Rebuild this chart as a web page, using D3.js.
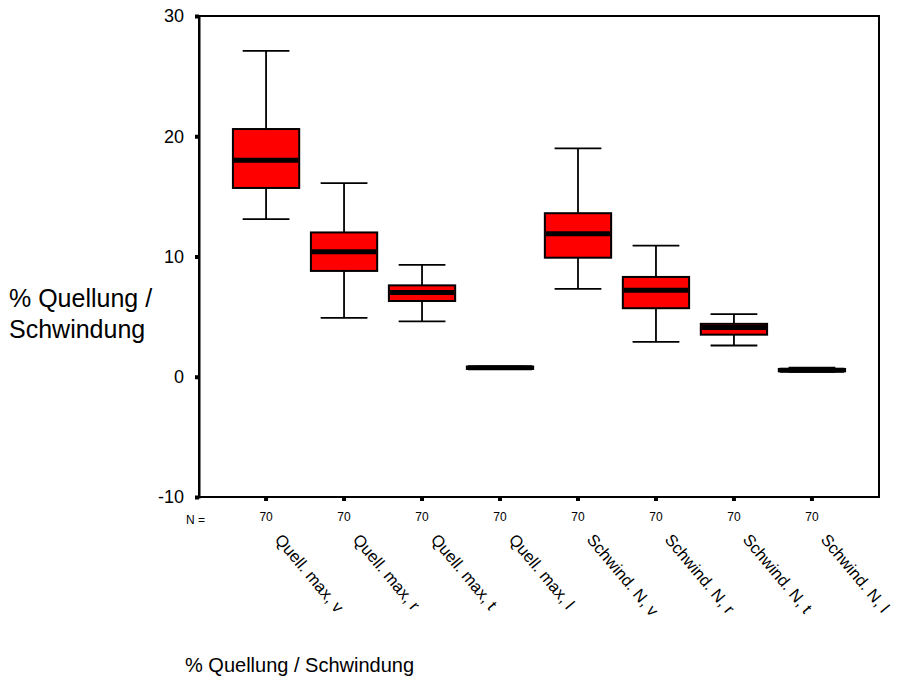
<!DOCTYPE html>
<html>
<head>
<meta charset="utf-8">
<script src="https://cdn.jsdelivr.net/npm/d3@7"></script>
<style>
  html, body { margin: 0; padding: 0; background: #fff; }
  svg { display: block; font-family: Arial, "Liberation Sans", sans-serif; }
</style>
</head>
<body>
<svg id="chart" width="918" height="682"></svg>
<script>
// Variables shown on the x axis
const categories = ["Quell. max, v", "Quell. max, r", "Quell. max, t", "Quell. max, l",
                    "Schwind. N, v", "Schwind. N, r", "Schwind. N, t", "Schwind. N, l"];
// Box-plot summaries (percent)
const whiskerHigh = [27.1, 16.1, 9.3, 0.85, 19.0, 10.9, 5.2, 0.75];
const quartile3   = [20.6, 12.0, 7.6, 0.85, 13.6, 8.3, 4.4, 0.65];
const medians     = [18.0, 10.4, 7.0, 0.75, 11.9, 7.2, 4.1, 0.55];
const quartile1   = [15.7, 8.8, 6.3, 0.65, 9.9, 5.7, 3.5, 0.45];
const whiskerLow  = [13.1, 4.9, 4.6, 0.65, 7.3, 2.9, 2.6, 0.4];
const counts      = [70, 70, 70, 70, 70, 70, 70, 70];
const yTicks      = [-10, 0, 10, 20, 30];

const svg = d3.select("#chart");
const plot = { left: 199, right: 879, top: 16, bottom: 497 };

const x = d3.scaleBand().domain(categories).range([plot.left, plot.right])
  .paddingInner(0).paddingOuter(0.36);
const y = d3.scaleLinear().domain([-10, 30]).range([plot.bottom, plot.top]);

const boxW = x.bandwidth() * 0.85;
const capW = x.bandwidth() * 0.6;

const data = categories.map((c, i) => ({
  cat: c, hi: whiskerHigh[i], q3: quartile3[i], med: medians[i],
  q1: quartile1[i], lo: whiskerLow[i], n: counts[i]
}));

// Frame
svg.append("rect")
  .attr("x", plot.left).attr("y", plot.top)
  .attr("width", plot.right - plot.left).attr("height", plot.bottom - plot.top)
  .attr("fill", "none").attr("stroke", "#000").attr("stroke-width", 2);

// Y axis with square tick marks
const yAxis = svg.append("g")
  .attr("transform", `translate(${plot.left},0)`)
  .call(d3.axisLeft(y).tickValues(yTicks).tickSize(4).tickPadding(11).tickFormat(d => String(d)));
yAxis.select(".domain").attr("stroke", "#000").attr("stroke-width", 2);
yAxis.selectAll(".tick line").attr("stroke", "#000").attr("stroke-width", 4);
yAxis.selectAll(".tick text").attr("font-size", 18).attr("fill", "#000")
  .attr("font-family", "Arial, 'Liberation Sans', sans-serif");

// X axis: counts under each box
const xAxis = svg.append("g")
  .attr("transform", `translate(0,${plot.bottom})`)
  .call(d3.axisBottom(x).tickSize(4).tickPadding(11).tickFormat((d, i) => counts[i]));
xAxis.select(".domain").remove();
xAxis.selectAll(".tick line").attr("stroke", "#000").attr("stroke-width", 4);
xAxis.selectAll(".tick text").attr("font-size", 12).attr("fill", "#000")
  .attr("font-family", "Arial, 'Liberation Sans', sans-serif");

svg.append("text")
  .attr("x", 186).attr("y", 524)
  .attr("font-size", 12).attr("fill", "#000")
  .text("N =");

// Category labels, rotated
svg.append("g").selectAll("text")
  .data(categories)
  .join("text")
  .attr("transform", d => `translate(${x(d) + x.bandwidth() / 2 + 8},${540}) rotate(50)`)
  .attr("font-size", 16.5)
  .attr("fill", "#000")
  .text(d => d);

// Boxes
const g = svg.append("g").selectAll("g")
  .data(data)
  .join("g")
  .attr("transform", d => `translate(${x(d.cat) + x.bandwidth() / 2},0)`);

g.append("line")
  .attr("x1", 0).attr("x2", 0)
  .attr("y1", d => y(d.hi)).attr("y2", d => y(d.q3))
  .attr("stroke", "#000").attr("stroke-width", 1.8);
g.append("line")
  .attr("x1", 0).attr("x2", 0)
  .attr("y1", d => y(d.q1)).attr("y2", d => y(d.lo))
  .attr("stroke", "#000").attr("stroke-width", 1.8);
g.append("line")
  .attr("x1", -capW / 2).attr("x2", capW / 2)
  .attr("y1", d => y(d.hi)).attr("y2", d => y(d.hi))
  .attr("stroke", "#000").attr("stroke-width", 1.8);
g.append("line")
  .attr("x1", -capW / 2).attr("x2", capW / 2)
  .attr("y1", d => y(d.lo)).attr("y2", d => y(d.lo))
  .attr("stroke", "#000").attr("stroke-width", 1.8);

g.append("rect")
  .attr("x", -boxW / 2).attr("width", boxW)
  .attr("y", d => y(d.q3)).attr("height", d => Math.max(0.5, y(d.q1) - y(d.q3)))
  .attr("fill", "#ff0000").attr("stroke", "#000").attr("stroke-width", 2);

g.append("line")
  .attr("x1", -boxW / 2 + 1).attr("x2", boxW / 2 - 1)
  .attr("y1", d => y(d.med)).attr("y2", d => y(d.med))
  .attr("stroke", "#000").attr("stroke-width", 5);

// Axis titles
const yTitle = svg.append("text")
  .attr("font-size", 25).attr("fill", "#000");
yTitle.append("tspan").attr("x", 9).attr("y", 307).text("% Quellung /");
yTitle.append("tspan").attr("x", 9).attr("y", 338).text("Schwindung");

svg.append("text")
  .attr("x", 185).attr("y", 672)
  .attr("font-size", 20).attr("fill", "#000")
  .text("% Quellung / Schwindung");
</script>
</body>
</html>
